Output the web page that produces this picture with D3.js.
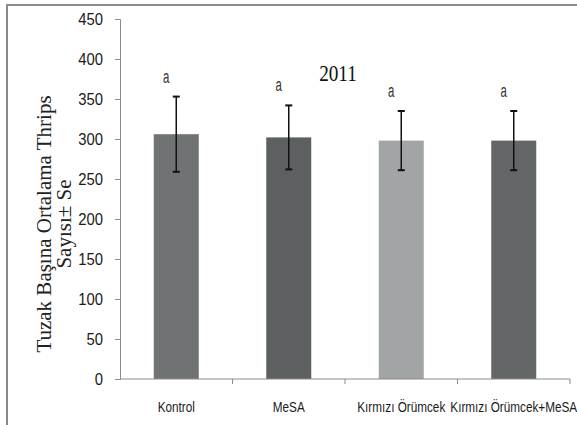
<!DOCTYPE html>
<html><head><meta charset="utf-8">
<script src="https://cdn.jsdelivr.net/npm/d3@7"></script>
<style>body{margin:0;background:#fff}</style>
</head><body>
<script>
const categories = ["Kontrol", "MeSA", "Kırmızı Örümcek", "Kırmızı Örümcek+MeSA"];
const means = [306, 302, 298, 298];
const se = [47, 40, 37, 37];
const letters = ["a", "a", "a", "a"];
const yTicks = [0, 50, 100, 150, 200, 250, 300, 350, 400, 450];
const barColors = ["#707373", "#5d6060", "#a2a5a5", "#646767"];
const title = "2011";
const yTitle = ["Tuzak Başına Ortalama Thrips", "Sayısı± Se"];

const W = 577, H = 425;
const SANS = "'Liberation Sans', Arial, sans-serif";
const SERIF = "'Liberation Serif', 'Times New Roman', serif";
const svg = d3.select("body").append("svg").attr("width", W).attr("height", H);

svg.append("rect").attr("x", 7).attr("y", 5).attr("width", W).attr("height", H)
  .attr("fill", "none").attr("stroke", "#8a8a8a").attr("stroke-width", 2);

const x = d3.scaleBand().domain(categories).range([120, 570]).paddingInner(0.6).paddingOuter(0.3);
const y = d3.scaleLinear().domain([0, 450]).range([379, 19]);

const data = categories.map((c, i) => ({c, m: means[i], s: se[i], l: letters[i], col: barColors[i]}));

// y axis
const ySx = 0.9;
const ya = svg.append("g").attr("transform", "translate(120,0)")
  .call(d3.axisLeft(y).tickValues(yTicks).tickSize(5).tickPadding(12).tickFormat(d3.format("d")));
ya.selectAll("path,line").attr("stroke", "#8c8c8c");
ya.selectAll("text").attr("font-family", SANS).attr("font-size", 16.5).attr("fill", "#1a1a1a")
  .attr("x", -17 / ySx).attr("transform", `scale(${ySx},1)`);

// bars
svg.selectAll(".bar").data(data).enter().append("rect")
  .attr("x", d => x(d.c)).attr("width", x.bandwidth())
  .attr("y", d => y(d.m)).attr("height", d => y(0) - y(d.m))
  .attr("fill", d => d.col);

// x axis
const xSx = 0.84;
const xa = svg.append("g").attr("transform", "translate(0,379)")
  .call(d3.axisBottom(x).tickSize(0).tickPadding(23));
xa.select(".domain").attr("stroke", "#8c8c8c").attr("d", "M120,0H570");
xa.selectAll("text").attr("font-family", SANS).attr("font-size", 14).attr("fill", "#1a1a1a")
  .attr("transform", `scale(${xSx},1)`);
const bounds = categories.map(c => x(c) + x.bandwidth() + x.step() * 0.3);
svg.selectAll(".xt").data(bounds).enter().append("line")
  .attr("x1", d => d).attr("x2", d => d).attr("y1", 379).attr("y2", 384)
  .attr("stroke", "#8c8c8c");

// error bars
const eb = svg.selectAll(".eb").data(data).enter().append("g")
  .attr("transform", d => `translate(${x(d.c) + x.bandwidth() / 2},0)`);
eb.append("line").attr("y1", d => y(d.m + d.s)).attr("y2", d => y(d.m - d.s))
  .attr("stroke", "#111").attr("stroke-width", 1.5);
eb.append("line").attr("x1", -3.5).attr("x2", 3.5).attr("y1", d => y(d.m + d.s)).attr("y2", d => y(d.m + d.s))
  .attr("stroke", "#111").attr("stroke-width", 2);
eb.append("line").attr("x1", -3.5).attr("x2", 3.5).attr("y1", d => y(d.m - d.s)).attr("y2", d => y(d.m - d.s))
  .attr("stroke", "#111").attr("stroke-width", 2);

// letters
svg.selectAll(".lt").data(data).enter().append("text")
  .attr("transform", d => `translate(${x(d.c) + x.bandwidth() / 2 - 10},${y(d.m + d.s) - 14}) scale(0.6,1)`)
  .attr("text-anchor", "middle")
  .attr("font-family", SANS).attr("font-size", 19).attr("fill", "#333").text(d => d.l);

// title
svg.append("text").attr("transform", "translate(338,81) scale(0.8,1)").attr("text-anchor", "middle")
  .attr("font-family", SERIF).attr("font-size", 24).attr("fill", "#111").text(title);

// y title
const yt = svg.append("text").attr("transform", "translate(51,224) rotate(-90)")
  .attr("text-anchor", "middle")
  .attr("font-family", SERIF).attr("font-size", 21).attr("fill", "#222");
yt.selectAll("tspan").data(yTitle).enter().append("tspan")
  .attr("x", 0).attr("dy", (d, i) => i === 0 ? 0 : 20).text(d => d);
</script>
</body></html>
